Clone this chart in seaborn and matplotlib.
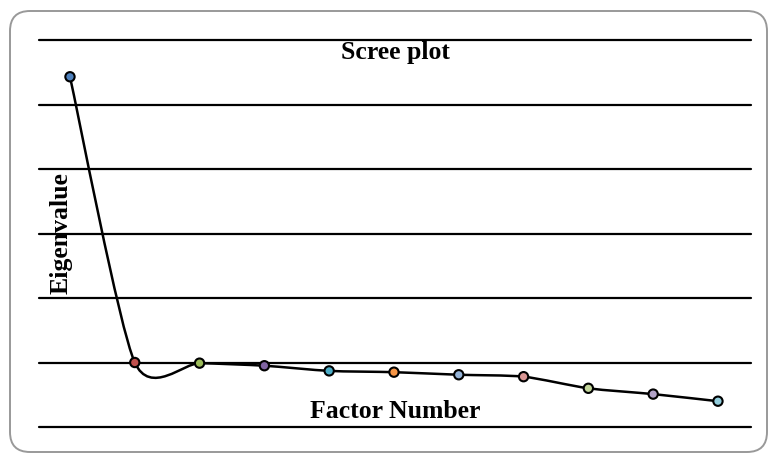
import numpy as np
import pandas as pd
import matplotlib
matplotlib.use("Agg")
import matplotlib.pyplot as plt
import seaborn as sns
from matplotlib.path import Path
from matplotlib.patches import PathPatch, FancyBboxPatch

# data
factors = [1, 2, 3, 4, 5, 6, 7, 8, 9, 10, 11]
eigenvalues = [5.43, 1.00, 0.99, 0.95, 0.87, 0.85, 0.81, 0.78, 0.60, 0.51, 0.40]
point_colors = ["#4f81bd", "#c0504d", "#9bbb59", "#8064a2", "#4bacc6", "#f79646",
                "#95b3d7", "#d99694", "#c3d69b", "#b2a2c7", "#92cddc"]
y_gridlines = [0, 1, 2, 3, 4, 5, 6]

df = pd.DataFrame({"factor": factors, "eigenvalue": eigenvalues,
                   "label": [str(f) for f in factors]})

sns.set_theme(style="white")
plt.rcParams["font.family"] = ["Liberation Serif", "DejaVu Serif"]
plt.rcParams["text.color"] = "black"
plt.rcParams["axes.labelcolor"] = "black"

fig = plt.figure(figsize=(7.68, 4.54), dpi=100)
ax = fig.add_axes([39 / 768, 1 - 427 / 454, 712 / 768, 387 / 454])

# rounded outer frame
frame = FancyBboxPatch((10, 2), 757, 441, boxstyle="round,pad=0,rounding_size=20",
                       transform=None, facecolor="none", edgecolor="#999999",
                       linewidth=1.4, zorder=0)
fig.patches.append(frame)


def smooth_path(xs, ys, k=0.12):
    # Catmull-Rom style bezier segments through the points
    pts = np.column_stack([xs, ys]).astype(float)
    n = len(pts)
    verts = [pts[0]]
    codes = [Path.MOVETO]
    for i in range(n - 1):
        p_prev = pts[i - 1] if i > 0 else pts[i]
        p_next2 = pts[i + 2] if i + 2 < n else pts[i + 1]
        c1 = pts[i] + k * (pts[i + 1] - p_prev)
        c2 = pts[i + 1] - k * (p_next2 - pts[i])
        verts += [c1, c2, pts[i + 1]]
        codes += [Path.CURVE4] * 3
    return Path(verts, codes)


ax.add_patch(PathPatch(smooth_path(df["factor"], df["eigenvalue"]),
                       facecolor="none", edgecolor="black", linewidth=1.8, zorder=3))

sns.scatterplot(data=df, x="factor", y="eigenvalue", hue="label",
                palette=point_colors, s=45, edgecolor="black", linewidth=1.5,
                legend=False, zorder=4, ax=ax)

ax.set_xlim(0.522, 11.51)
ax.set_ylim(0, 6)
ax.set_yticks(y_gridlines)
ax.set_xticks([])
ax.set_yticklabels([])
ax.tick_params(length=0)
ax.grid(axis="y", color="black", linewidth=1.6)
for gl in ax.get_ygridlines():
    gl.set_clip_on(False)
ax.set_axisbelow(True)
for s in ax.spines.values():
    s.set_visible(False)
ax.patch.set_alpha(0)

ax.text(0.5, 0.997, "Scree plot", transform=ax.transAxes, ha="center", va="top",
        fontsize=18.5, fontweight="bold")
ax.set_xlabel("Factor Number", fontsize=18.5, fontweight="bold", va="baseline")
ax.xaxis.set_label_coords(0.5, 9 / 387)
ax.set_ylabel("Eigenvalue", fontsize=18.5, fontweight="bold", va="center")
ax.yaxis.set_label_coords(22 / 712, 0.5)

fig.savefig("out.png", dpi=100)
